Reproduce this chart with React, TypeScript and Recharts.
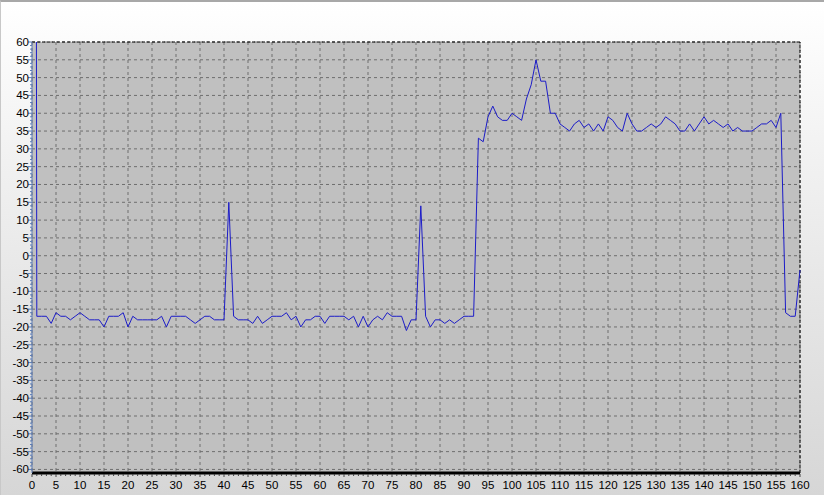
import { LineChart, Line, XAxis, YAxis, CartesianGrid, ReferenceLine } from "recharts";

// sample index 0..160, reading at each sample (first one is off the top of the scale)
const readings = [
  1000, -17, -17, -17, -19, -16, -17, -17, -18, -17,
  -16, -17, -18, -18, -18, -20, -17, -17, -17, -16,
  -20, -17, -18, -18, -18, -18, -18, -17, -20, -17,
  -17, -17, -17, -18, -19, -18, -17, -17, -18, -18,
  -18, 15, -17, -18, -18, -18, -19, -17, -19, -18,
  -17, -17, -17, -16, -18, -17, -20, -18, -18, -17,
  -17, -19, -17, -17, -17, -17, -18, -17, -20, -17,
  -20, -18, -17, -18, -16, -17, -17, -17, -21, -18,
  -18, 14, -17, -20, -18, -18, -19, -18, -19, -18,
  -17, -17, -17, 33, 32, 39, 42, 39, 38, 38,
  40, 39, 38, 44, 48, 55, 49, 49, 40, 40,
  37, 36, 35, 37, 38, 36, 37, 35, 37, 35,
  39, 38, 36, 35, 40, 37, 35, 35, 36, 37,
  36, 37, 39, 38, 37, 35, 35, 37, 35, 37,
  39, 37, 38, 37, 36, 37, 35, 36, 35, 35,
  35, 36, 37, 37, 38, 36, 40, -16, -17, -17,
  -4,
];

const xTickLabels = [
  0, 5, 10, 15, 20, 25, 30, 35, 40, 45, 50, 55, 60, 65, 70, 75, 80,
  85, 90, 95, 100, 105, 110, 115, 120, 125, 130, 135, 140, 145, 150, 155, 160,
];
const yTickLabels = [
  -60, -55, -50, -45, -40, -35, -30, -25, -20, -15, -10, -5, 0,
  5, 10, 15, 20, 25, 30, 35, 40, 45, 50, 55, 60,
];

// minor tick marks, one per unit
const xMinor = Array.from({ length: 161 }, (_, i) => i);
const yMinor = Array.from({ length: 121 }, (_, i) => i - 60);

const data = readings.map((v, i) => ({ x: i, value: v }));

const FONT = "'Liberation Sans', Arial, sans-serif";

const XTick = (props: any) => {
  const x = Number(props.x);
  const y = Number(props.y);
  const v = props.payload.value;
  const major = xTickLabels.includes(v);
  return (
    <g>
      <line x1={x} x2={x} y1={y + 1} y2={y + (major ? 4 : 3)} stroke="#444" />
      {major && (
        <text x={x} y={y + 16} textAnchor="middle" fontSize={11.5} fontFamily={FONT} fill="#000">
          {v}
        </text>
      )}
    </g>
  );
};

const YTick = (props: any) => {
  const x = Number(props.x);
  const y = Number(props.y);
  const v = props.payload.value;
  const major = yTickLabels.includes(v);
  return (
    <g>
      <line x1={x - (major ? 4 : 2)} x2={x} y1={y} y2={y} stroke="#5a7bb5" />
      {major && (
        <text x={x - 3} y={y + 4} textAnchor="end" fontSize={11.5} fontFamily={FONT} fill="#000">
          {v}
        </text>
      )}
    </g>
  );
};

export default function App() {
  return (
    <div
      style={{
        position: "fixed",
        left: 0,
        top: 0,
        width: 824,
        height: 495,
        boxSizing: "border-box",
        borderTop: "2px solid #a8a8a8",
        borderLeft: "1px solid #c8c8c8",
        background: "linear-gradient(to bottom, #ffffff 0%, #f2f2f2 30%, #d6d6d6 100%)",
      }}
    >
      <LineChart
        width={823}
        height={493}
        data={data}
        margin={{ top: 40, right: 24, bottom: 0, left: 0 }}
      >
        {/* hidden axes on the opposite sides, only to place the major grid */}
        <XAxis
          xAxisId="grid"
          orientation="top"
          dataKey="x"
          type="number"
          domain={[0, 160]}
          ticks={xTickLabels}
          interval={0}
          hide
        />
        <YAxis
          yAxisId="grid"
          orientation="right"
          type="number"
          domain={[-61, 60]}
          ticks={yTickLabels}
          interval={0}
          allowDataOverflow
          hide
        />
        <XAxis
          xAxisId="main"
          dataKey="x"
          type="number"
          domain={[0, 160]}
          ticks={xMinor}
          interval={0}
          tick={XTick}
          tickLine={false}
          tickSize={0}
          tickMargin={0}
          height={22}
          axisLine={{ stroke: "#000", strokeWidth: 3 }}
        />
        <YAxis
          yAxisId="main"
          type="number"
          domain={[-61, 60]}
          ticks={yMinor}
          interval={0}
          allowDataOverflow
          tick={YTick}
          tickLine={false}
          tickSize={0}
          tickMargin={0}
          width={31}
          axisLine={{ stroke: "#5a7bb5" }}
        />
        <CartesianGrid
          xAxisId="grid"
          yAxisId="grid"
          fill="#c0c0c0"
          stroke="#6e6e6e"
          strokeDasharray="3 3"
        />
        <ReferenceLine xAxisId="main" yAxisId="main" y={60} stroke="#000" strokeDasharray="3 2" />
        <ReferenceLine xAxisId="main" yAxisId="main" x={160} stroke="#000" strokeDasharray="3 2" />
        <Line
          xAxisId="main"
          yAxisId="main"
          dataKey="value"
          stroke="#1c1cc8"
          strokeWidth={1}
          dot={false}
          activeDot={false}
          isAnimationActive={false}
        />
      </LineChart>
    </div>
  );
}
